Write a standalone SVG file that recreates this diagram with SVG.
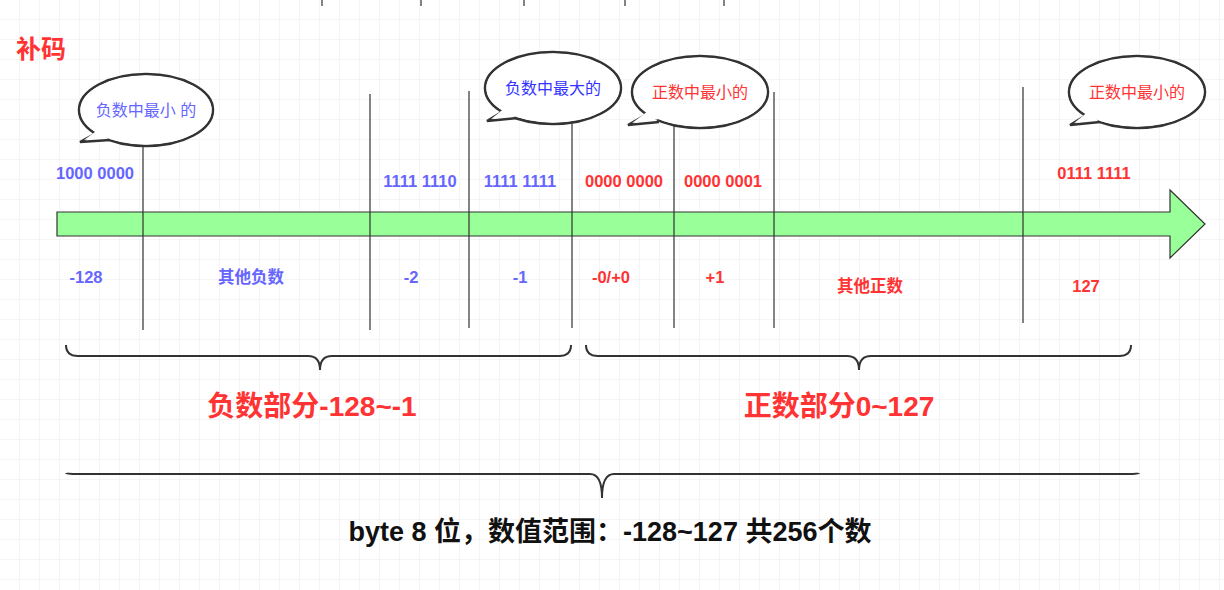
<svg xmlns="http://www.w3.org/2000/svg" width="1224" height="590" viewBox="0 0 1224 590">
<defs>
<pattern id="g" width="20" height="20" patternUnits="userSpaceOnUse"><path d="M20 0V20M0 20H20" fill="none" stroke="#ebebeb" stroke-width="1"/></pattern>
<style>
text{font-family:"Liberation Sans","Noto Sans CJK SC",sans-serif;font-weight:bold}
.b{fill:#6666ff;font-size:16.5px}.r{fill:#ff3333;font-size:16.5px}
.bs{fill:#fff;stroke:#333;stroke-width:2.5}
.bw{fill:#fff}
.bt{font-weight:normal;font-size:16px}
.v{stroke:#333;stroke-width:1.2}
.br{fill:none;stroke:#333;stroke-width:2}
</style>
</defs>
<rect width="1224" height="590" fill="#fff"/>
<rect width="1224" height="590" fill="url(#g)"/>
<g id="ticks" class="v"><path d="M322 0V6M421 0V6M524 0V6M625 0V6M724 0V6"/></g>
<text x="16" y="58" fill="#ff3333" font-size="25">补码</text>
<g id="axis"><path d="M57 212H1170V190L1205 224L1170 258V236H57Z" fill="#99ff99" stroke="#333" stroke-width="1.2"/></g>
<g id="connectors" class="v">
<path d="M143 140V330M370 94V330M469 91V328M572 106V328M674 122V328M774 92V328M1023 87V323"/>
</g>
<g id="bubble1"><ellipse class="bs" cx="146" cy="110" rx="67" ry="36"/><path class="bs" d="M98 132L80 142L110 140"/><ellipse class="bw" cx="146" cy="110" rx="65.5" ry="34.5"/><path class="bw" d="M99 129L84 140L111 137Z"/><text x="146" y="116" text-anchor="middle" class="bt" fill="#6666ff">负数中最小 的</text></g>
<g id="bubble2"><ellipse class="bs" cx="553" cy="88" rx="68" ry="36"/><path class="bs" d="M505 110L487 121L517 118"/><ellipse class="bw" cx="553" cy="88" rx="66.5" ry="34.5"/><path class="bw" d="M506 107L491 119L518 115Z"/><text x="553" y="94" text-anchor="middle" class="bt" fill="#3333ff">负数中最大的</text></g>
<g id="bubble3"><ellipse class="bs" cx="700" cy="92" rx="68" ry="36"/><path class="bs" d="M647 114L628 125L659 122"/><ellipse class="bw" cx="700" cy="92" rx="66.5" ry="34.5"/><path class="bw" d="M648 111L632 123L660 119Z"/><text x="700" y="98" text-anchor="middle" class="bt" fill="#ff3333">正数中最小的</text></g>
<g id="bubble4"><ellipse class="bs" cx="1137" cy="92" rx="68" ry="36"/><path class="bs" d="M1088 114L1070 125L1100 122"/><ellipse class="bw" cx="1137" cy="92" rx="66.5" ry="34.5"/><path class="bw" d="M1089 111L1074 123L1101 119Z"/><text x="1137" y="98" text-anchor="middle" class="bt" fill="#ff3333">正数中最小的</text></g>
<g id="labels">
<text x="95" y="179" text-anchor="middle" class="b">1000 0000</text>
<text x="420" y="187" text-anchor="middle" class="b">1111 1110</text>
<text x="520" y="187" text-anchor="middle" class="b">1111 1111</text>
<text x="624" y="187" text-anchor="middle" class="r">0000 0000</text>
<text x="723" y="187" text-anchor="middle" class="r">0000 0001</text>
<text x="1094" y="179" text-anchor="middle" class="r">0111 1111</text>
<text x="86" y="283" text-anchor="middle" class="b">-128</text>
<text x="251" y="283" text-anchor="middle" class="b">其他负数</text>
<text x="411" y="283" text-anchor="middle" class="b">-2</text>
<text x="520" y="283" text-anchor="middle" class="b">-1</text>
<text x="611" y="283" text-anchor="middle" class="r">-0/+0</text>
<text x="715" y="283" text-anchor="middle" class="r">+1</text>
<text x="870" y="292" text-anchor="middle" class="r">其他正数</text>
<text x="1086" y="292" text-anchor="middle" class="r">127</text>
</g>
<g id="braces" class="br">
<path d="M66 345Q66 356 78 356H308Q320 356 320 370Q320 356 332 356H559Q571 356 571 345"/>
<path d="M586 345Q586 356 598 356H847Q859 356 859 370Q859 356 871 356H1119Q1131 356 1131 345"/>
<path d="M66 473Q66 474 78 474H590Q602 474 602 498Q602 474 614 474H1127Q1139 474 1139 473"/>
</g>
<text x="312" y="416" text-anchor="middle" fill="#ff3333" font-size="28">负数部分-128~-1</text>
<text x="839" y="416" text-anchor="middle" fill="#ff3333" font-size="28">正数部分0~127</text>
<text x="610" y="541" text-anchor="middle" fill="#111" font-size="27">byte 8 位，数值范围：-128~127 共256个数</text>
</svg>
